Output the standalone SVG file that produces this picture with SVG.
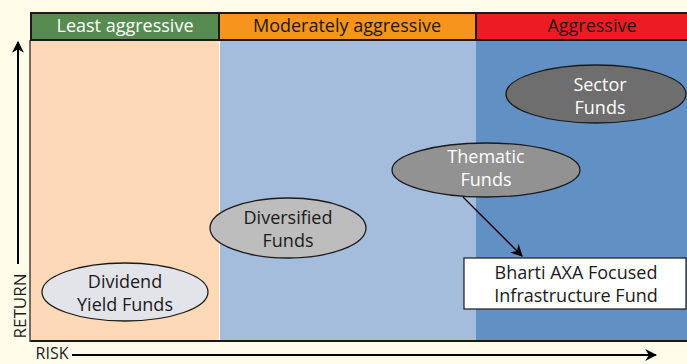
<svg xmlns="http://www.w3.org/2000/svg" width="687" height="364" viewBox="0 0 687 364">
<defs>
<style>
text{font-family:"Open Sans","Liberation Sans",sans-serif;font-size:18px;text-anchor:middle}
.hdr{stroke:#1a1a1a;stroke-width:2}
.ell{stroke:#1a1a1a;stroke-width:1.3}
.dark{fill:#1a1a1a}
.light{fill:#ffffff}
</style>
<marker id="ah2" viewBox="0 0 10 10" refX="9" refY="5" markerWidth="12" markerHeight="12" orient="auto" markerUnits="userSpaceOnUse">
<path d="M0,0 L10,5 L0,10 L3,5 Z" fill="#000"/>
</marker>
</defs>
<rect width="687" height="364" fill="#fefce8"/>
<g id="bands">
<rect x="30" y="40" width="189" height="301" fill="#fdd9b7"/>
<rect x="220" y="40" width="256" height="301" fill="#a4bddc"/>
<rect x="476" y="40" width="211" height="301" fill="#6090c4"/>
<line x1="30" y1="341" x2="687" y2="341" stroke="#1a1a1a" stroke-width="2"/>
<line x1="30" y1="40" x2="30" y2="342" stroke="#4a4040" stroke-width="1.5"/>
</g>
<g id="header-least">
<rect class="hdr" x="31" y="13" width="188" height="27" fill="#578b52"/>
<text x="125" y="32" class="light">Least aggressive</text>
</g>
<g id="header-moderate">
<rect class="hdr" x="219" y="13" width="257" height="27" fill="#f7941d"/>
<text x="347" y="32" class="dark">Moderately aggressive</text>
</g>
<g id="header-aggressive">
<rect class="hdr" x="476" y="13" width="212" height="27" fill="#ed1c24"/>
<text x="592" y="32" class="dark">Aggressive</text>
</g>
<g id="dividend">
<ellipse class="ell" cx="125" cy="292" rx="83" ry="29" fill="#e3e4ea"/>
<text x="125" y="288" class="dark">Dividend</text>
<text x="125" y="311" class="dark">Yield Funds</text>
</g>
<g id="diversified">
<ellipse class="ell" cx="288" cy="228" rx="78" ry="30" fill="#bdbdbd"/>
<text x="288" y="224" class="dark">Diversified</text>
<text x="288" y="247" class="dark">Funds</text>
</g>
<g id="thematic">
<ellipse class="ell" cx="486" cy="170" rx="94" ry="27" fill="#929292"/>
<text x="486" y="163" class="light">Thematic</text>
<text x="486" y="186" class="light">Funds</text>
</g>
<g id="sector">
<ellipse class="ell" cx="596" cy="94" rx="90" ry="29" fill="#6e6e6e"/>
<text x="600" y="91" class="light">Sector</text>
<text x="600" y="114" class="light">Funds</text>
</g>
<g id="bharti">
<rect x="464" y="258" width="222" height="51" fill="#ffffff" stroke="#1a1a1a" stroke-width="1.2"/>
<text x="576" y="279" class="dark">Bharti AXA Focused</text>
<text x="576" y="302" class="dark">Infrastructure Fund</text>
</g>
<g id="connectors">
<line x1="463" y1="197" x2="522" y2="256" stroke="#000" stroke-width="1.3" marker-end="url(#ah2)"/>
</g>
<g id="axes">
<line x1="18" y1="264" x2="18" y2="42" stroke="#000" stroke-width="2" marker-end="url(#ah2)"/>
<text transform="translate(26,306) rotate(-90)" class="dark" style="font-size:17px">RETURN</text>
<text x="52" y="359" class="dark" style="font-size:16px">RISK</text>
<line x1="72" y1="355" x2="656" y2="355" stroke="#000" stroke-width="2" marker-end="url(#ah2)"/>
</g>
</svg>
